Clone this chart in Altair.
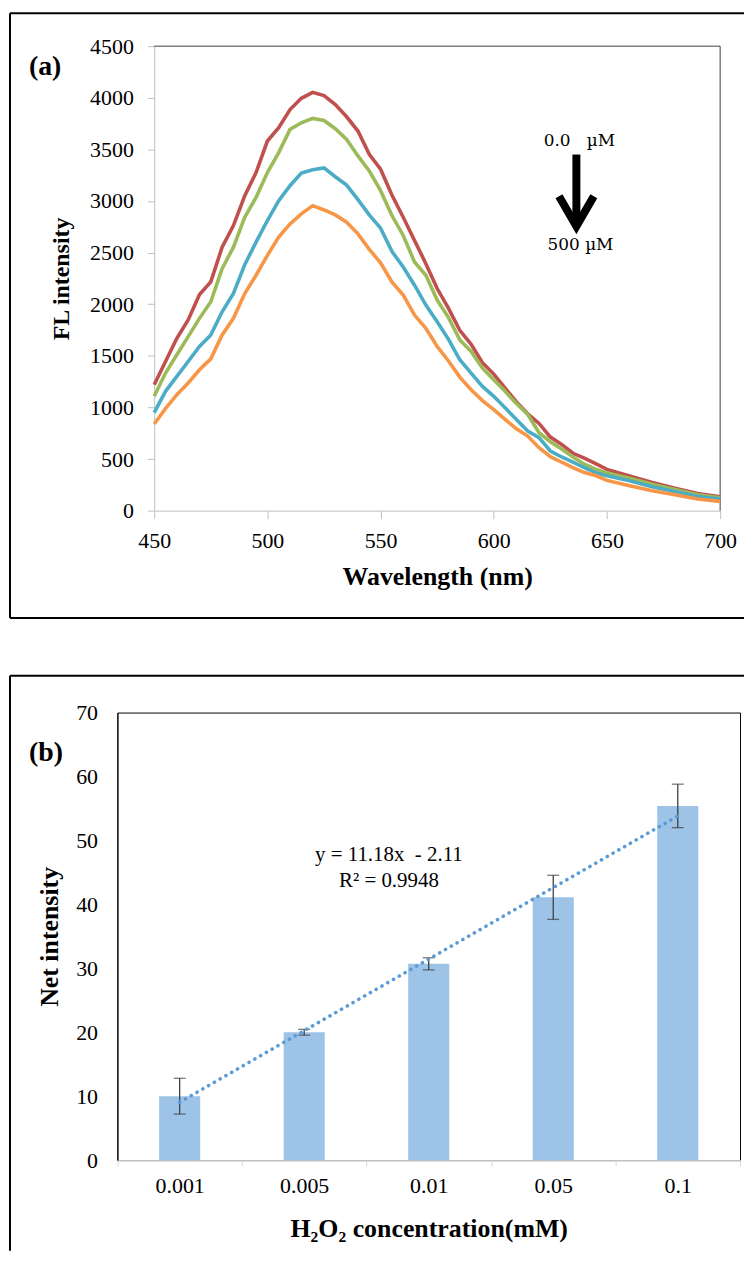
import altair as alt
import pandas as pd

# ---------------- Panel (a): fluorescence spectra ----------------
wavelength = [450, 455, 460, 465, 470, 475, 480, 485, 490, 495, 500, 505, 510, 515,
              520, 525, 530, 535, 540, 545, 550, 555, 560, 565, 570, 575, 580, 585,
              590, 595, 600, 605, 610, 615, 620, 625, 630, 635, 640, 645, 650,
              660, 670, 680, 690, 700]
curve_red = [1220, 1445, 1670, 1847, 2094, 2216, 2553, 2762, 3051, 3276, 3581, 3710, 3886, 3995,
             4053, 4021, 3935, 3816, 3678, 3453, 3308, 3058, 2843, 2618, 2393, 2152, 1959, 1747,
             1612, 1433, 1323, 1188, 1053, 938, 845, 713, 642, 556, 508, 456, 400,
             337, 273, 218, 167, 135]
curve_green = [1108, 1333, 1510, 1686, 1863, 2024, 2345, 2553, 2843, 3035, 3276, 3469, 3694, 3758,
               3800, 3780, 3700, 3597, 3437, 3292, 3100, 2859, 2666, 2409, 2281, 2040, 1870, 1654,
               1542, 1381, 1269, 1156, 1037, 932, 755, 668, 597, 520, 450, 402, 365,
               315, 257, 206, 154, 125]
curve_blue = [950, 1156, 1301, 1445, 1590, 1703, 1927, 2104, 2383, 2602, 2811, 3003, 3148, 3270,
              3302, 3321, 3235, 3154, 3013, 2865, 2737, 2512, 2361, 2184, 1992, 1831, 1660, 1462,
              1333, 1204, 1108, 996, 884, 771, 707, 578, 520, 469, 418, 369, 337,
              289, 231, 186, 138, 113]
curve_orange = [840, 990, 1124, 1237, 1365, 1471, 1703, 1863, 2104, 2281, 2474, 2650, 2778, 2876,
                2955, 2913, 2865, 2794, 2682, 2531, 2402, 2216, 2088, 1895, 1766, 1590, 1450, 1294,
                1172, 1066, 979, 884, 793, 723, 610, 523, 469, 418, 369, 340, 293,
                241, 193, 154, 113, 90]
series_names = ["0.0 µM", "level 2", "level 3", "500 µM"]
series_colors = ["#c0504d", "#9bbb59", "#4bacc6", "#f79646"]
x_ticks_a = [450, 500, 550, 600, 650, 700]
y_ticks_a = [0, 500, 1000, 1500, 2000, 2500, 3000, 3500, 4000, 4500]

# annotation (arrow + labels) in data coordinates
arrow_x = [636.5]
arrow_top = [3450]
arrow_bottom = [2790]
arrow_head_y = [2900]
ann_text = ["0.0\u00a0\u00a0\u00a0µM", "500 µM"]
ann_x = [637.8, 638.3]
ann_y = [3580, 2573]

# ---------------- Panel (b): net intensity bars ----------------
concentration = ["0.001", "0.005", "0.01", "0.05", "0.1"]
conc_index = [1, 2, 3, 4, 5]
net_intensity = [10.0, 20.0, 30.7, 41.1, 55.4]
error = [2.8, 0.45, 0.95, 3.45, 3.4]
y_ticks_b = [0, 10, 20, 30, 40, 50, 60, 70]
equation_lines = ["y = 11.18x\u00a0\u00a0- 2.11", "R² = 0.9948"]

SERIF = "Liberation Serif"

# layout (pixels)
A_SHIFT = 37          # panel (a) plot starts 37px right of panel (b) plot
A_W, A_H = 569, 467
B_W, B_H = 626, 450

# ---- data frames ----
rows = []
for name, vals in zip(series_names, [curve_red, curve_green, curve_blue, curve_orange]):
    for w, v in zip(wavelength, vals):
        rows.append({"wl": w, "intensity": v, "series": name})
spec_df = pd.DataFrame(rows)
arrow_df = pd.DataFrame({"x": arrow_x, "top": arrow_top, "bottom": arrow_bottom, "head": arrow_head_y})
ann_df = pd.DataFrame({"x": ann_x, "y": ann_y, "t": ann_text})
one = pd.DataFrame({"d": [0]})

bar_df = pd.DataFrame({"conc": concentration, "idx": conc_index, "net": net_intensity, "err": error})
bar_df["lo"] = bar_df["net"] - bar_df["err"]
bar_df["hi"] = bar_df["net"] + bar_df["err"]


def frame_rules(left, top, right, bottom, draw_bottom=True):
    base = alt.Chart(one).mark_rule(color="black", strokeWidth=2)
    parts = [
        base.encode(x=alt.value(left), x2=alt.value(right), y=alt.value(top)),
        base.encode(x=alt.value(left), y=alt.value(top), y2=alt.value(bottom)),
    ]
    if draw_bottom:
        parts.append(base.encode(x=alt.value(left), x2=alt.value(right), y=alt.value(bottom)))
    return parts


# ---------------- build panel (a) ----------------
xa = alt.X("wl:Q", scale=alt.Scale(domain=[450, 700], nice=False, zero=False,
                                   range=[A_SHIFT, A_SHIFT + A_W]),
           axis=alt.Axis(values=x_ticks_a, format="d", title="Wavelength (nm)", grid=False,
                         domainColor="#bfbfbf", tickColor="#bfbfbf", tickSize=8,
                         labelPadding=12, labelFont=SERIF, labelFontSize=22, labelColor="black",
                         labelFlush=False, titleFont=SERIF, titleFontSize=26, titleFontWeight="bold",
                         titleColor="black", titlePadding=12))
ya = alt.Y("intensity:Q", scale=alt.Scale(domain=[0, 4500], nice=False),
           axis=alt.Axis(values=y_ticks_a, format="d", title="FL intensity", grid=False, offset=-A_SHIFT,
                         domainColor="#bfbfbf", tickColor="#bfbfbf", tickSize=7,
                         labelPadding=14, labelFont=SERIF, labelFontSize=22, labelColor="black",
                         labelFlush=False, titleFont=SERIF, titleFontSize=24, titleFontWeight="bold",
                         titleColor="black", titlePadding=16))

lines_a = alt.Chart(spec_df).mark_line(strokeWidth=3.6).encode(
    x=xa, y=ya,
    color=alt.Color("series:N", scale=alt.Scale(domain=series_names, range=series_colors), legend=None),
)
shaft = alt.Chart(arrow_df).mark_rule(color="black", strokeWidth=8).encode(
    x="x:Q", y="top:Q", y2="bottom:Q")
head = alt.Chart(arrow_df).mark_point(
    shape="M -1 -0.86 L 0 0.86 L 1 -0.86", filled=False, size=1225,
    color="black", strokeWidth=8, strokeJoin="miter", opacity=1).encode(x="x:Q", y="head:Q")
ann = alt.Chart(ann_df).mark_text(font="DejaVu Serif", fontSize=17, color="black",
                                  align="center", baseline="middle").encode(x="x:Q", y="y:Q", text="t:N")
label_a = alt.Chart(one).mark_text(text="(a)", font=SERIF, fontSize=28, fontWeight="bold",
                                   align="left", baseline="middle", color="black").encode(
    x=alt.value(-89), y=alt.value(21))
plot_border_a = alt.Chart(one).mark_rule(color="#404040", strokeWidth=1)
border_top_a = plot_border_a.encode(x=alt.value(A_SHIFT), x2=alt.value(A_SHIFT + A_W), y=alt.value(0))
border_right_a = plot_border_a.encode(x=alt.value(A_SHIFT + A_W), y=alt.value(0), y2=alt.value(A_H))

panel_a = alt.layer(
    border_top_a, border_right_a, lines_a, shaft, head, ann, label_a,
    *frame_rules(-108, -33, 630, 575)
).properties(width=A_SHIFT + A_W, height=A_H,
             view=alt.ViewBackground(stroke="transparent", strokeWidth=0))

# ---------------- build panel (b) ----------------
xb = alt.X("conc:N", sort=concentration,
           scale=alt.Scale(paddingInner=0, paddingOuter=0),
           axis=alt.Axis(title="H₂O₂ concentration(mM)", tickBand="extent", labelAngle=0,
                         domainColor="#d9d9d9", tickColor="#d9d9d9", tickSize=6,
                         labelPadding=10, labelFont=SERIF, labelFontSize=22, labelColor="black",
                         titleFont=SERIF, titleFontSize=26, titleFontWeight="bold",
                         titleColor="black", titlePadding=19))
yb = alt.Y("net:Q", scale=alt.Scale(domain=[0, 70], nice=False),
           axis=alt.Axis(values=y_ticks_b, title="Net intensity", grid=False, ticks=False, tickSize=0,
                         domainColor="black", labelPadding=20, labelFont=SERIF, labelFontSize=22,
                         labelColor="black", titleFont=SERIF, titleFontSize=26, titleFontWeight="bold",
                         titleColor="black", titlePadding=13))
xb_plain = alt.X("conc:N", sort=concentration)

bars = alt.Chart(bar_df).mark_bar(color="#9dc3e6", width=alt.RelativeBandSize(0.33)).encode(x=xb, y=yb)
err_rule = alt.Chart(bar_df).mark_rule(color="#404040", strokeWidth=1.3).encode(
    x=xb_plain, y="lo:Q", y2="hi:Q")
cap_lo = alt.Chart(bar_df).mark_tick(color="#404040", thickness=1.3, size=12).encode(
    x=xb_plain, y="lo:Q")
cap_hi = alt.Chart(bar_df).mark_tick(color="#404040", thickness=1.3, size=12).encode(
    x=xb_plain, y="hi:Q")
band_layers = alt.layer(bars, err_rule, cap_lo, cap_hi)

trend = alt.Chart(bar_df).transform_regression("idx", "net", method="linear", extent=[1, 5]).mark_line(
    color="#5b9bd5", strokeWidth=3.6, strokeDash=[0.1, 6.6], strokeCap="round").encode(
    x=alt.X("idx:Q", scale=alt.Scale(domain=[0.5, 5.5], nice=False, zero=False), axis=None),
    y=alt.Y("net:Q"))
eq1 = alt.Chart(one).mark_text(text=equation_lines[0], font=SERIF, fontSize=21, color="black",
                               align="center", baseline="middle").encode(x=alt.value(273), y=alt.value(143))
eq2 = alt.Chart(one).mark_text(text=equation_lines[1], font=SERIF, fontSize=21, color="black",
                               align="center", baseline="middle").encode(x=alt.value(273), y=alt.value(169))
label_b = alt.Chart(one).mark_text(text="(b)", font=SERIF, fontSize=28, fontWeight="bold",
                                   align="left", baseline="middle", color="black").encode(
    x=alt.value(-89), y=alt.value(41))

panel_b = alt.layer(
    band_layers, trend, eq1, eq2, label_b,
    *frame_rules(-108, -37, 630, 541, draw_bottom=False)
).resolve_scale(x="independent").properties(
    width=B_W, height=B_H, view=alt.ViewBackground(stroke="black", strokeWidth=1))

chart = alt.vconcat(panel_a, panel_b, spacing=55, bounds="full").properties(
    padding={"left": 0, "top": 1, "right": 0, "bottom": 0}
).configure(font=SERIF)

chart.save("out.html", embed_options={"renderer": "svg", "actions": False})
